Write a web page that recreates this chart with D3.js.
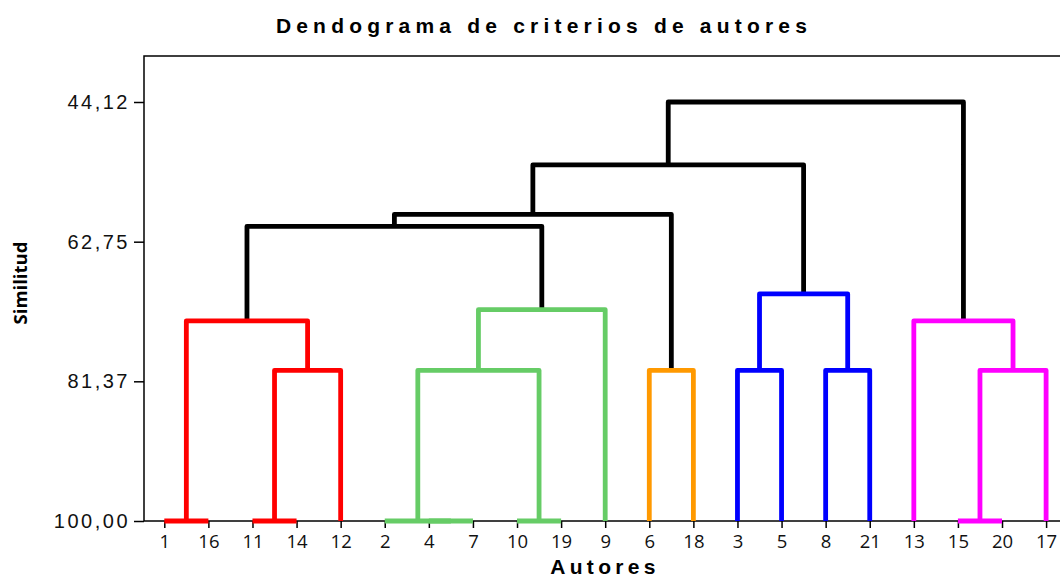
<!DOCTYPE html>
<html lang="es">
<head>
    <meta charset="UTF-8">
    <title>Dendograma de criterios de autores</title>
    <script src="https://cdnjs.cloudflare.com/ajax/libs/d3/7.8.5/d3.min.js"></script>
    <style>
        body {
            margin: 0;
            background-color: white;
        }

        svg {
            display: block;
        }

        .titulo, .etiqueta {
            font-family: "Liberation Sans", Arial, sans-serif;
            font-weight: bold;
            fill: black;
        }

        .eje-y text {
            font-family: "Liberation Sans", Arial, sans-serif;
            font-size: 20px;
            letter-spacing: 2.5px;
            fill: #111;
        }

        .eje-x text {
            font-family: "Open Sans", sans-serif;
            font-size: 18.5px;
            fill: #111;
        }

        .eje-x line, .eje-y line {
            stroke: black;
            stroke-width: 1.5px;
        }

        .rama {
            fill: none;
            stroke-width: 4.8px;
            stroke-linejoin: round;
        }
    </style>
</head>
<body>
<div id="chart"></div>
<script>
    const autores = ['1', '16', '11', '14', '12', '2', '4', '7', '10', '19', '9',
        '6', '18', '3', '5', '8', '21', '13', '15', '20', '17'];

    // cada fila: [izquierda, derecha, similitud]; 'nK' es la union de la fila K
    const uniones = [
        ['1', '16', 100],      // n0
        ['11', '14', 100],     // n1
        ['n1', '12', 79.9],    // n2
        ['n0', 'n2', 73.3],    // n3
        ['4', '7', 100],       // n4
        ['2', 'n4', 100],      // n5
        ['10', '19', 100],     // n6
        ['n5', 'n6', 79.9],    // n7
        ['n7', '9', 71.8],     // n8
        ['6', '18', 79.9],     // n9
        ['3', '5', 79.9],      // n10
        ['8', '21', 79.9],     // n11
        ['n10', 'n11', 69.7],  // n12
        ['15', '20', 100],     // n13
        ['n13', '17', 79.9],   // n14
        ['13', 'n14', 73.3],   // n15
        ['n3', 'n8', 60.7],    // n16
        ['n16', 'n9', 59.1],   // n17
        ['n17', 'n12', 52.5],  // n18
        ['n18', 'n15', 44.12]  // n19
    ];

    const grupos = ['n3', 'n8', 'n9', 'n12', 'n15'];
    const ticksSimilitud = [44.12, 62.75, 81.37, 100];

    const coloresGrupo = ['#ff0000', '#66cc66', '#ff9900', '#0000ff', '#ff00ff'];

    const width = 1060;
    const height = 578;
    const margin = {left: 144, top: 56, bottom: 521, right: 1067};

    const svg = d3.select('#chart')
        .append('svg')
        .attr('width', width)
        .attr('height', height);

    const x = d3.scalePoint().domain(autores).range([164.3, 1046.1]);
    const y = d3.scaleLinear().domain([100, 44.12]).range([margin.bottom, 102]);

    // nodos del arbol
    const nodos = {};
    autores.forEach(a => nodos[a] = {id: a, sim: 100});
    uniones.forEach(([i, d, s], k) => {
        nodos['n' + k] = {id: 'n' + k, izq: nodos[i], der: nodos[d], sim: s};
    });
    const raiz = nodos['n' + (uniones.length - 1)];

    function posX(n) {
        if (!n.izq) return x(n.id);
        if (n.x === undefined) n.x = (posX(n.izq) + posX(n.der)) / 2;
        return n.x;
    }

    function pintar(n, color) {
        const g = grupos.indexOf(n.id);
        if (g >= 0) color = coloresGrupo[g];
        n.color = color;
        if (n.izq) {
            pintar(n.izq, color);
            pintar(n.der, color);
        }
    }
    pintar(raiz, 'black');

    // marco
    svg.append('rect')
        .attr('x', margin.left)
        .attr('y', margin.top)
        .attr('width', margin.right - margin.left)
        .attr('height', margin.bottom - margin.top)
        .attr('fill', 'none')
        .attr('stroke', 'black')
        .attr('stroke-width', 1.5);

    svg.append('g')
        .attr('class', 'eje-x')
        .attr('transform', `translate(0,${margin.bottom})`)
        .call(d3.axisBottom(x).tickSize(7).tickPadding(7).tickSizeOuter(0))
        .call(g => g.select('.domain').remove());

    svg.append('g')
        .attr('class', 'eje-y')
        .attr('transform', `translate(${margin.left},0)`)
        .call(d3.axisLeft(y).tickValues(ticksSimilitud).tickSize(10).tickPadding(4)
            .tickFormat(d => d.toFixed(2).replace('.', ',')))
        .call(g => g.select('.domain').remove());

    // ramas: de la raiz hacia abajo, para que los hijos queden encima
    const internos = uniones.map((_, k) => nodos['n' + k]).reverse();
    svg.append('g')
        .selectAll('path')
        .data(internos)
        .enter()
        .append('path')
        .attr('class', 'rama')
        .attr('stroke', d => d.color)
        .attr('d', d => `M${posX(d.izq)},${y(d.izq.sim)}V${y(d.sim)}H${posX(d.der)}V${y(d.der.sim)}`);

    svg.append('text')
        .attr('class', 'titulo')
        .attr('x', 544)
        .attr('y', 33)
        .attr('text-anchor', 'middle')
        .style('font-size', '21px')
        .style('letter-spacing', '5.2px')
        .text('Dendograma de criterios de autores');

    svg.append('text')
        .attr('class', 'etiqueta')
        .attr('x', 605)
        .attr('y', 574)
        .attr('text-anchor', 'middle')
        .style('font-size', '21px')
        .style('letter-spacing', '4.3px')
        .text('Autores');

    svg.append('text')
        .attr('class', 'etiqueta')
        .attr('transform', 'translate(26.5,283) rotate(-90)')
        .attr('text-anchor', 'middle')
        .style('font-family', '"Open Sans", sans-serif')
        .style('font-size', '18.5px')
        .text('Similitud');
</script>
</body>
</html>
